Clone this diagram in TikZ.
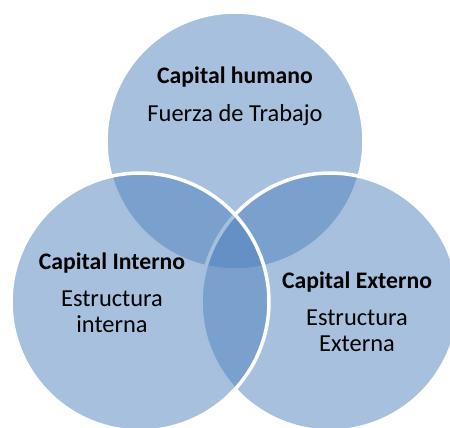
\documentclass[tikz,border=0pt]{standalone}
\usepackage{fontspec}
\setmainfont{Carlito}
\usepackage{tikz}
\usetikzlibrary{positioning}
\definecolor{VennBlue}{RGB}{79,129,189}

\begin{document}
\begin{tikzpicture}[x=0.02cm,y=-0.02cm,
  venn/.style={circle,draw=white,line width=2pt,fill=VennBlue,fill opacity=0.5,
               inner sep=0pt,minimum size=5.16cm},
  title/.style={anchor=base,font=\fontsize{13.5}{14.8}\selectfont\bfseries,inner sep=0pt},
  body/.style={anchor=base,align=center,font=\fontsize{13.9}{14.8}\selectfont,inner sep=0pt},
]
\useasboundingbox (0,0) rectangle (450,428);
\clip (0,0) rectangle (450,428);
% circles: top first, left last
\node[venn] (humano) at (235,141) {};
\node[venn] (externo) at (330,302) {};
\node[venn] (interno) at (140,302) {};
% labels (body nodes sit on their last line)
\node[title] (humanoT) at (235,84) {Capital humano};
\node[body] (humanoB) at (235,122) {Fuerza de Trabajo};
\node[title] (internoT) at (112,270) {Capital Interno};
\node[body] (internoB) at (112,333) {Estructura\\interna};
\node[title] (externoT) at (357,289) {Capital Externo};
\node[body] (externoB) at (357,352) {Estructura\\Externa};
\end{tikzpicture}
\end{document}
